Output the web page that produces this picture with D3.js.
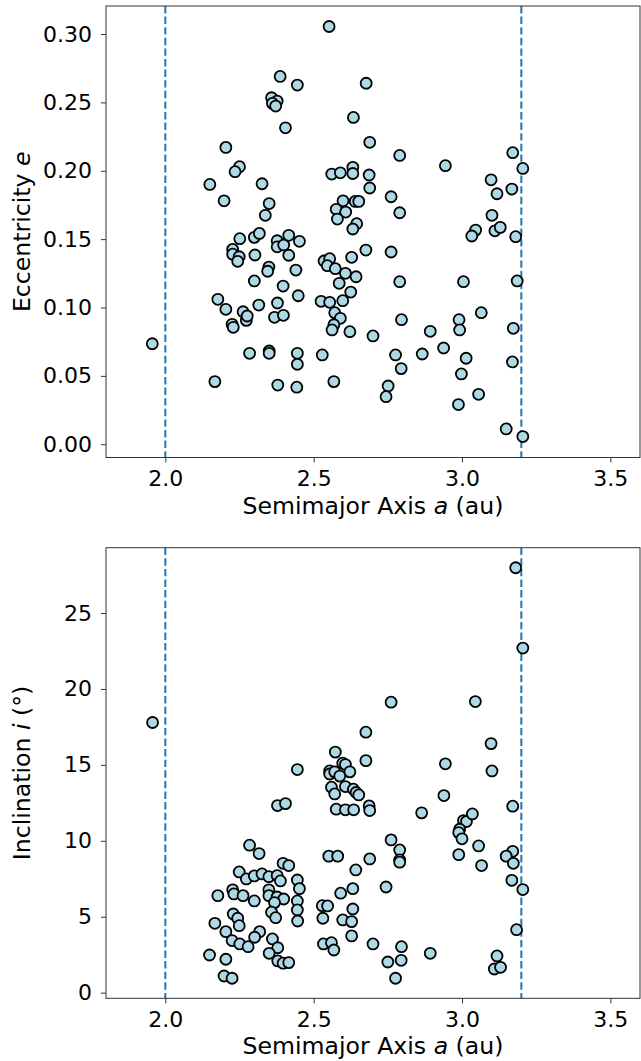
<!DOCTYPE html>
<html>
<head>
<meta charset="utf-8">
<script src="https://cdn.jsdelivr.net/npm/d3@7"></script>
<style>
  html, body { margin: 0; padding: 0; background: #fff; }
  text { font-family: "DejaVu Sans", sans-serif; fill: #000; }
</style>
</head>
<body>
<div id="plot"></div>
<script>
// semimajor axis (au) and eccentricity
const eccPoints = [
  [2.552,0.3055],[2.387,0.269],[2.445,0.2627],[2.677,0.264],[2.358,0.2534],[2.377,0.251],
  [2.361,0.2493],[2.372,0.2473],[2.634,0.239],[2.405,0.2314],[2.689,0.2208],[2.204,0.2171],
  [2.25,0.203],[2.235,0.1993],[2.15,0.190],[2.326,0.1905],[2.561,0.1976],[2.59,0.1985],
  [2.632,0.2025],[2.632,0.198],[2.687,0.1969],[2.689,0.1874],[2.198,0.178],[2.35,0.176],
  [2.337,0.1674],[2.599,0.178],[2.64,0.1776],[2.652,0.1776],[2.576,0.1718],[2.608,0.1698],
  [2.58,0.1647],[2.645,0.1613],[2.632,0.1574],[2.790,0.2112],[2.944,0.2037],[3.171,0.2132],
  [3.205,0.2017],[2.761,0.181],[2.790,0.1693],[3.098,0.1934],[3.118,0.1832],[3.168,0.1866],
  [3.101,0.1674],[3.046,0.1566],[3.033,0.1523],[3.111,0.1561],[3.129,0.1586],[3.181,0.1518],
  [2.676,0.142],[2.761,0.1406],[2.790,0.1189],[3.005,0.1189],[3.186,0.1194],[2.796,0.0911],
  [2.99,0.0911],[2.992,0.0836],[3.065,0.0962],[2.893,0.0826],[2.7,0.0792],[2.938,0.0704],
  [3.173,0.0848],[2.776,0.0653],[2.866,0.066],[3.014,0.0629],[2.795,0.0553],[3.17,0.0602],
  [2.998,0.0514],[2.751,0.0426],[2.744,0.0348],[3.056,0.0365],[2.988,0.029],[3.149,0.0112],
  [3.205,0.0056],[2.251,0.1503],[2.3,0.1513],[2.317,0.1542],[2.377,0.1488],[2.377,0.1444],
  [2.399,0.1457],[2.416,0.1528],[2.452,0.1484],[2.227,0.1425],[2.227,0.139],[2.249,0.1371],
  [2.244,0.1338],[2.302,0.1384],[2.416,0.1382],[2.349,0.1296],[2.345,0.1265],[2.44,0.1274],
  [2.3,0.1194],[2.397,0.1157],[2.448,0.1086],[2.177,0.106],[2.204,0.0987],[2.262,0.0969],
  [2.315,0.1018],[2.378,0.1033],[2.273,0.0906],[2.276,0.0938],[2.368,0.0928],[2.398,0.0943],
  [2.225,0.0877],[2.229,0.0855],[1.956,0.0735],[2.284,0.0665],[2.35,0.0682],[2.35,0.0665],
  [2.445,0.0665],[2.445,0.0585],[2.529,0.0653],[2.167,0.0458],[2.379,0.0433],[2.443,0.0417],
  [2.568,0.0458],[2.535,0.134],[2.554,0.1357],[2.546,0.1306],[2.573,0.1284],[2.607,0.125],
  [2.643,0.1225],[2.628,0.1367],[2.586,0.1177],[2.625,0.1113],[2.525,0.1045],[2.554,0.1038],
  [2.598,0.105],[2.571,0.0962],[2.59,0.0921],[2.568,0.0874],[2.562,0.0836],[2.622,0.0823]
];

// semimajor axis (au) and inclination (deg)
const incPoints = [
  [1.957,17.79],[2.676,17.15],[2.573,15.84],[3.181,27.98],[3.205,22.69],[2.761,19.13],
  [3.045,19.17],[3.098,16.4],[2.676,15.28],[2.944,15.07],[3.101,14.6],[2.939,12.98],
  [2.687,12.3],[2.689,11.99],[2.864,11.84],[3.171,12.28],[3.005,11.33],[3.015,11.27],
  [3.035,11.77],[2.992,10.76],[2.989,10.54],[3.0,10.13],[2.761,10.06],[2.79,9.4],
  [2.79,8.74],[2.79,8.59],[2.689,8.81],[2.989,9.09],[3.056,9.66],[3.066,8.37],
  [3.171,9.31],[3.149,8.99],[3.173,8.52],[3.168,7.4],[3.205,6.79],[2.744,6.96],
  [3.184,4.15],[2.7,3.21],[2.796,3.03],[2.893,2.59],[2.75,2.02],[2.795,2.13],
  [2.776,0.95],[3.118,2.42],[3.109,1.56],[3.13,1.67],
  [2.445,14.69],[2.554,14.6],[2.554,14.4],[2.571,14.54],[2.598,15.11],[2.607,15.02],
  [2.622,14.54],[2.588,14.26],[2.56,13.53],[2.571,13.09],[2.607,13.57],[2.634,13.4],
  [2.643,13.18],[2.652,13.02],[2.378,12.32],[2.405,12.45],[2.576,12.08],[2.607,12.04],
  [2.635,12.04],
  [2.284,9.71],[2.316,9.16],[2.551,8.99],[2.581,8.99],[2.397,8.52],[2.416,8.37],
  [2.642,8.08],[2.249,7.95],[2.273,7.49],[2.3,7.69],[2.326,7.82],[2.349,7.64],
  [2.377,7.71],[2.388,7.36],[2.445,7.42],[2.452,6.85],[2.227,6.77],[2.231,6.5],
  [2.262,6.39],[2.177,6.39],[2.3,6.04],[2.349,6.77],[2.349,6.39],[2.377,6.3],
  [2.399,6.17],[2.368,5.93],[2.445,6.04],[2.445,5.45],[2.446,4.72],[2.358,5.3],
  [2.372,4.94],[2.229,5.18],[2.244,4.9],[2.249,4.41],[2.167,4.57],[2.204,4.02],
  [2.318,4.02],[2.301,3.65],[2.225,3.43],[2.251,3.21],[2.279,3.03],[2.361,3.54],
  [2.379,2.96],[2.35,2.59],[2.379,2.09],[2.397,1.94],[2.416,1.98],[2.149,2.48],
  [2.204,2.2],[2.198,1.1],[2.225,0.95],
  [2.529,5.73],[2.547,5.71],[2.591,6.55],[2.632,6.85],[2.632,5.51],[2.531,4.9],
  [2.598,4.79],[2.628,4.68],[2.628,3.74],[2.533,3.21],[2.56,3.29],[2.568,2.81]
];

// boundary lines (au) and tick values
const boundaries = [2.0, 3.2];
const xTicks = [2.0, 2.5, 3.0, 3.5];
const eccTicks = [0.00, 0.05, 0.10, 0.15, 0.20, 0.25, 0.30];
const incTicks = [0, 5, 10, 15, 20, 25];

const width = 641, height = 1061;
const svg = d3.select("#plot").append("svg")
  .attr("width", width)
  .attr("height", height);

function panel(opts) {
  const { top, bottom, yDomain, points, yTicks, yFormat, yLabel } = opts;
  const left = 106, right = 640;

  const x = d3.scaleLinear().domain([1.8, 3.6]).range([left, right]);
  const y = d3.scaleLinear().domain(yDomain).range([bottom, top]);

  const g = svg.append("g");

  // dashed boundaries
  g.selectAll("line.bound")
    .data(boundaries)
    .join("line")
    .attr("class", "bound")
    .attr("x1", d => x(d)).attr("x2", d => x(d))
    .attr("y1", top).attr("y2", bottom)
    .attr("stroke", "#1f77b4")
    .attr("stroke-width", 2)
    .attr("stroke-dasharray", "7.4,3.2");

  // points
  g.selectAll("circle")
    .data(points)
    .join("circle")
    .attr("cx", d => x(d[0]))
    .attr("cy", d => y(d[1]))
    .attr("r", 5.5)
    .attr("fill", "#add8e6")
    .attr("stroke", "#000")
    .attr("stroke-width", 1.8);

  // frame
  g.append("rect")
    .attr("x", left).attr("y", top)
    .attr("width", right - left).attr("height", bottom - top)
    .attr("fill", "none")
    .attr("stroke", "#333")
    .attr("stroke-width", 1);

  const xAxis = g.append("g")
    .attr("transform", `translate(0,${bottom})`)
    .call(d3.axisBottom(x).tickValues(xTicks).tickFormat(d3.format(".1f"))
      .tickSize(5).tickPadding(8));
  const yAxis = g.append("g")
    .attr("transform", `translate(${left},0)`)
    .call(d3.axisLeft(y).tickValues(yTicks).tickFormat(yFormat)
      .tickSize(5).tickPadding(9));

  [xAxis, yAxis].forEach(ax => {
    ax.select(".domain").remove();
    ax.selectAll(".tick line").attr("stroke", "#333");
    ax.selectAll(".tick text")
      .style("font-family", "DejaVu Sans")
      .style("font-size", "22px")
      .attr("fill", "#000");
  });

  // x label
  const xl = g.append("text")
    .attr("x", (left + right) / 2)
    .attr("y", bottom + 56)
    .attr("text-anchor", "middle")
    .style("font-size", "23.6px");
  xl.append("tspan").text("Semimajor Axis ");
  xl.append("tspan").style("font-style", "italic").text("a");
  xl.append("tspan").text(" (au)");

  // y label
  const yl = g.append("text")
    .attr("transform", `translate(30,${(top + bottom) / 2}) rotate(-90)`)
    .attr("text-anchor", "middle")
    .style("font-size", "23.6px");
  yLabel.forEach(part => {
    yl.append("tspan").style("font-style", part.italic ? "italic" : "normal").text(part.t);
  });
}

panel({
  top: 6, bottom: 457.5,
  yDomain: [-0.0097, 0.3205],
  points: eccPoints,
  yTicks: eccTicks,
  yFormat: d3.format(".2f"),
  yLabel: [{ t: "Eccentricity " }, { t: "e", italic: true }]
});

panel({
  top: 547.7, bottom: 998.3,
  yDomain: [-0.37, 29.3],
  points: incPoints,
  yTicks: incTicks,
  yFormat: d3.format("d"),
  yLabel: [{ t: "Inclination " }, { t: "i", italic: true }, { t: " (°)" }]
});
</script>
</body>
</html>
